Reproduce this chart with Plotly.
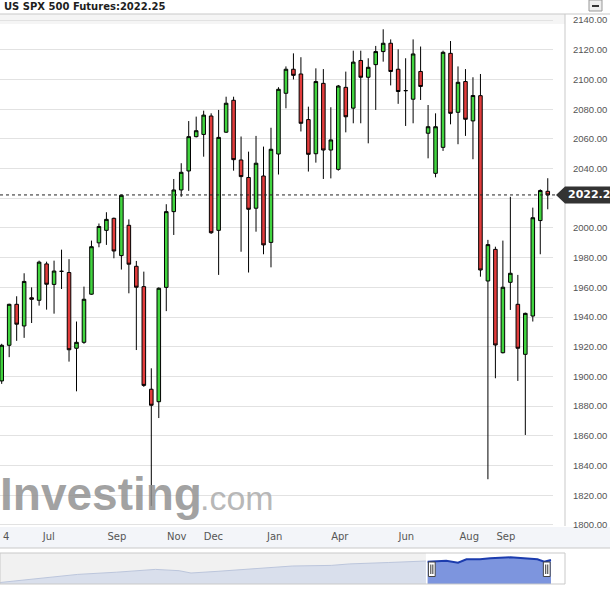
import plotly.graph_objects as go

# Weekly candles (index 0 = leftmost candle)
opens = [1897, 1921, 1948.6, 1934, 1953, 1951.3, 1975.8, 1962, 1970.8, 1970,
         1919, 1923, 1955.4, 1990, 1998.4, 2006.5, 1981.4, 2001.8, 1974.2, 1960.5,
         1891.4, 1883, 1960, 2011, 2025.6, 2038.4, 2061.5, 2063, 2075.4, 1998.4,
         2064.5, 2086, 2045.8, 2034, 2013.3, 2035, 1990.3, 2049.8, 2090.7, 2106.9,
         2103.7, 2073, 2050, 2097.4, 2052.5, 2039.5, 2094.7, 2080.7, 2112.8, 2101.5,
         2110, 2118.8, 2124.4, 2106.9, 2092.5, 2086.7, 2105.4, 2063.8, 2036.8, 2054.3,
         2117.6, 2077.9, 2098.6, 2072.1, 2089.1, 1964.3, 1985.6, 1916, 1963.4, 1948.6,
         1914.9, 1940.7, 2005, 2024.7]
highs = [1922, 1949, 1954, 1969.5, 1960, 1978, 1977.3, 1978, 1985.4, 1979,
         1937, 1960.5, 1991.5, 2003, 2010.6, 2007, 2022.5, 2005.8, 1977.8, 1970.6,
         1905.5, 1960, 2016, 2033, 2043.6, 2072, 2075, 2079, 2077.2, 2079.5,
         2088.4, 2088.4, 2061.6, 2051.4, 2062, 2054.8, 2067.5, 2094.8, 2108.8, 2117.6,
         2115, 2081.7, 2107.5, 2107, 2081.3, 2096.3, 2105.3, 2119.4, 2119.4, 2114.3,
         2122.6, 2133.8, 2127, 2120.3, 2114.3, 2127, 2122.2, 2082.8, 2077.2, 2119.4,
         2125.9, 2108.8, 2107, 2101.5, 2103.7, 1992, 1987.4, 1991.5, 2021, 1968.4,
         1943, 2013.7, 2026, 2033.5]
lows = [1895, 1913, 1924, 1926, 1936, 1947.7, 1945, 1942.3, 1958.9, 1910,
        1890, 1922, 1955, 1987, 1988.6, 1979.6, 1972, 1956, 1917.8, 1893,
        1812.8, 1872, 1944, 1995.3, 2021, 2025, 2061, 2048, 1996, 1968.4,
        2064, 2038.6, 1984, 1970, 1997.5, 1982.3, 1973.5, 2036, 2080.6, 2100,
        2065, 2038, 2044, 2033, 2033.4, 2038.6, 2064.4, 2070.5, 2070.5, 2057,
        2079.5, 2112, 2096, 2083.6, 2068.7, 2070.5, 2086.2, 2046.9, 2034.1, 2051.9,
        2069.8, 2056.4, 2062, 2046.3, 1967.2, 1830.8, 1898.8, 1915.5, 1944.8, 1897,
        1860.6, 1937, 1982.3, 2012.6]
closes = [1921, 1948.6, 1935.2, 1964, 1952, 1977, 1962.1, 1971, 1970.8, 1918,
          1923, 1952, 1987.4, 2001, 2005.8, 1984.5, 2022, 1975.6, 1960.1, 1894,
          1880.6, 1959.4, 2011, 2025.6, 2037.5, 2061.5, 2065.5, 2076, 1996.8, 2061,
          2084, 2046, 2034.6, 2012.6, 2043.6, 1988.6, 2053, 2093.4, 2106.9, 2102.8,
          2070.5, 2049.6, 2098.6, 2052.5, 2059.3, 2095.6, 2074.9, 2111.7, 2101.5, 2108.2,
          2118.8, 2124.4, 2105.4, 2091.9, 2092.5, 2117.2, 2095.3, 2068.2, 2068.2, 2118.3,
          2077.2, 2098.1, 2073.2, 2089.2, 1971.7, 1988.8, 1921.2, 1960.1, 1969.5, 1919,
          1942.5, 2006.9, 2025.2, 2022.25]
candle_idx = list(range(len(opens)))

# month labels sit between candles on this chart
tick_pos = [0.6, 6.3, 15.4, 23.4, 28.3, 36.5, 45.2, 54.1, 62.5, 67.4]
tick_text = ["4", "Jul", "Sep", "Nov", "Dec", "Jan", "Apr", "Jun", "Aug", "Sep"]

# price grid every 20; the 2020 label sits under the last-price tag
price_ticks = list(range(1800, 2141, 20))
price_labels = ["" if v == 2020 else f"{v:.2f}" for v in price_ticks]

last_price = 2022.25
title_text = "US SPX 500 Futures:2022.25"

# navigator strip: weeks before the last candle, relative level
nav_weeks = [-326, -303, -280, -257, -234, -220, -213, -197, -176, -153,
             -130, -119, -96, -74]
nav_level = [1.5, 5.6, 9.6, 11.8, 14.6, 13.3, 11.0, 12.7, 15.0, 18.0,
             18.6, 20.1, 21.5, 23.0]
sel_weeks = [-73, -62, -55, -50, -42, -36, -24, -16, -8, -4, 0]
sel_level = [22.3, 23.3, 21.3, 24.7, 24.7, 25.7, 26.7, 26.0, 24.7, 22.3, 24.0]

W, H = 610, 590
ML, MR, MT, MB = 0, 45, 14, 6
PW, PH = W - ML - MR, H - MT - MB


def px_x(p):
    return (p - ML) / PW


def px_y(p):
    return (H - MB - p) / PH


GREEN = "#41d43f"
RED = "#e23c3c"
GRID = "#e2e2e2"
FRAME = "#c9c9c9"

fig = go.Figure()

fig.add_trace(go.Candlestick(
    x=candle_idx, open=opens, high=highs, low=lows, close=closes,
    increasing=dict(fillcolor=GREEN, line=dict(color="black", width=1)),
    decreasing=dict(fillcolor=RED, line=dict(color="black", width=1)),
    whiskerwidth=0, showlegend=False, hoverinfo="skip",
    xaxis="x", yaxis="y",
))

fig.add_trace(go.Scatter(
    x=nav_weeks, y=nav_level, mode="lines", fill="tozeroy",
    fillcolor="#d9dfec", line=dict(color="#bcc6dc", width=1),
    xaxis="x2", yaxis="y2", showlegend=False, hoverinfo="skip",
))
fig.add_trace(go.Scatter(
    x=sel_weeks, y=sel_level, mode="lines", fill="tozeroy",
    fillcolor="#7d95de", line=dict(color="#1c3cae", width=2),
    xaxis="x2", yaxis="y2", showlegend=False, hoverinfo="skip",
))

x_right = 553

fig.update_layout(
    width=W, height=H,
    margin=dict(l=ML, r=MR, t=MT, b=MB),
    paper_bgcolor="white", plot_bgcolor="white",
    showlegend=False,
    boxgap=0.32,
    xaxis=dict(
        domain=[0, px_x(x_right)], range=[-0.227, 73.7],
        rangeslider=dict(visible=False),
        showgrid=False, zeroline=False, showline=False,
        tickmode="array", tickvals=tick_pos, ticktext=tick_text,
        ticks="", ticklabelstandoff=3,
        tickfont=dict(family="DejaVu Sans", size=10, color="#555555"),
        anchor="y",
    ),
    yaxis=dict(
        domain=[px_y(526), 1], range=[1799.3, 2144.1],
        side="right", anchor="x",
        tickmode="array", tickvals=price_ticks, ticktext=price_labels,
        showgrid=True, gridcolor=GRID, gridwidth=1,
        zeroline=False, showline=False, ticks="",
        ticklabelstandoff=19,
        tickfont=dict(family="Liberation Sans", size=9.5, color="#555555"),
    ),
    xaxis2=dict(
        domain=[0, 1], range=[-326, 8.3], anchor="y2",
        showgrid=False, zeroline=False, showticklabels=False, showline=False,
    ),
    yaxis2=dict(
        domain=[0, px_y(553)], range=[0, 31], anchor="x2",
        showgrid=False, zeroline=False, showticklabels=False, showline=False,
    ),
)

shapes = []
# top header line and faint shading under it
shapes.append(dict(type="rect", xref="paper", yref="paper",
                   x0=0, x1=px_x(565), y0=px_y(24), y1=px_y(14),
                   fillcolor="#f5f5f5", line=dict(width=0), layer="below"))
shapes.append(dict(type="line", xref="paper", yref="paper",
                   x0=0, x1=px_x(610), y0=px_y(14), y1=px_y(14),
                   line=dict(color=FRAME, width=1)))
# x label band
shapes.append(dict(type="rect", xref="paper", yref="paper",
                   x0=0, x1=px_x(610), y0=px_y(548), y1=px_y(527),
                   fillcolor="#f3f5f9", line=dict(width=0), layer="below"))
shapes.append(dict(type="line", xref="paper", yref="paper",
                   x0=0, x1=px_x(610), y0=px_y(548), y1=px_y(548),
                   line=dict(color=FRAME, width=1)))
# right frame of the plot
shapes.append(dict(type="line", xref="paper", yref="paper",
                   x0=px_x(565), x1=px_x(565), y0=px_y(526), y1=px_y(14),
                   line=dict(color=FRAME, width=1)))
# navigator box + grey top of unselected part
shapes.append(dict(type="rect", xref="x2", yref="paper",
                   x0=-326, x1=-74, y0=px_y(584), y1=px_y(553),
                   fillcolor="#f1f1f1", line=dict(width=0), layer="below"))
shapes.append(dict(type="rect", xref="paper", yref="paper",
                   x0=0, x1=px_x(565), y0=px_y(584), y1=px_y(553),
                   line=dict(color=FRAME, width=1)))
# navigator handles at the selection edges
for hx in [sel_weeks[0] + 2.5, sel_weeks[-1] - 2.5]:
    shapes.append(dict(type="rect", xref="x2", yref="y2",
                       x0=hx - 2, x1=hx + 2, y0=7.5, y1=22,
                       fillcolor="white", line=dict(color="#444444", width=1)))
    for dx in (-0.6, 0.6):
        shapes.append(dict(type="line", xref="x2", yref="y2",
                           x0=hx + dx, x1=hx + dx, y0=10, y1=19.5,
                           line=dict(color="#333333", width=1)))
# last price dotted line and tag
shapes.append(dict(type="line", xref="paper", yref="y",
                   x0=0, x1=px_x(556), y0=last_price, y1=last_price,
                   line=dict(color="#222222", width=1, dash="dot")))
half = 8.5 / 1.485
tag_path = (f"M {px_x(556)},{last_price} L {px_x(565)},{last_price + half} "
            f"L {px_x(615)},{last_price + half} L {px_x(615)},{last_price - half} "
            f"L {px_x(565)},{last_price - half} Z")
shapes.append(dict(type="path", xref="paper", yref="y", path=tag_path,
                   fillcolor="#333333", line=dict(width=0)))
# minimise button in the corner
shapes.append(dict(type="rect", xref="paper", yref="paper",
                   x0=px_x(589), x1=px_x(602), y0=px_y(11), y1=px_y(0),
                   fillcolor="#eeeeee", line=dict(color="#999999", width=1)))
shapes.append(dict(type="line", xref="paper", yref="paper",
                   x0=px_x(592), x1=px_x(599), y0=px_y(6), y1=px_y(6),
                   line=dict(color="#333333", width=2)))
fig.update_layout(shapes=shapes)

fig.add_annotation(
    text=title_text, xref="paper", yref="paper",
    x=px_x(2), y=px_y(7), xanchor="left", yanchor="middle", showarrow=False,
    font=dict(family="DejaVu Sans", size=10, color="#1e1e1e", weight="bold"),
)
fig.add_annotation(
    text=f"{last_price:.2f}", xref="paper", yref="y",
    x=px_x(566), y=last_price, xanchor="left", yanchor="middle", showarrow=False,
    font=dict(family="DejaVu Sans", size=11, color="white", weight="bold"),
)
# watermark
fig.add_annotation(
    text="<b>Investing</b>", xref="paper", yref="paper",
    x=px_x(-2), y=px_y(494), xanchor="left", yanchor="middle", showarrow=False,
    font=dict(family="Liberation Sans", size=46, color="rgba(145,145,145,0.85)"),
)
fig.add_annotation(
    text=".com", xref="paper", yref="paper",
    x=px_x(198), y=px_y(498), xanchor="left", yanchor="middle", showarrow=False,
    font=dict(family="Liberation Sans", size=34, color="rgba(165,165,165,0.8)"),
)

# page body has a default 8px margin; drop it so the chart sits at the corner
fig.write_html("out.html", config={"displayModeBar": False},
               post_script="document.body.style.margin='0';")
